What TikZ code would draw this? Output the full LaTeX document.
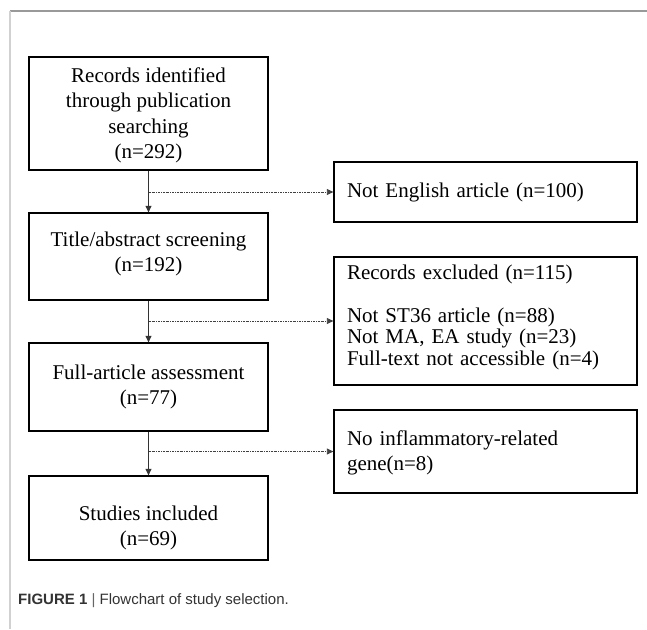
\documentclass[tikz,border=0pt]{standalone}
\usepackage{fontspec}
\setmainfont{Liberation Serif}
\setsansfont{Liberation Sans}
\usetikzlibrary{arrows.meta}
\begin{document}
\begin{tikzpicture}[x=1pt,y=-1pt,
 box/.style={draw=black,line width=1.3pt,minimum width=239pt,align=center,font=\fontsize{21}{25.5}\selectfont,inner sep=0pt,text=black},
 side/.style={draw=black,line width=1.3pt,minimum width=303pt,text width=277pt,align=left,inner xsep=13pt,inner ysep=0pt,font=\fontsize{21}{21.5}\selectfont,text=black},
 flow/.style={draw=black!80,line width=1pt,-{Triangle[length=6.5pt,width=6pt]}},
 excl/.style={draw=black!75,line width=0.8pt,dash pattern=on 2pt off 1pt on 0.7pt off 1pt,-{Triangle[length=6.5pt,width=6pt]}}]
\useasboundingbox (0,0) rectangle (647,629);
\draw[black!40,line width=1.5pt] (10,11) -- (647,11);
\draw[black!18,line width=2pt] (10,11) -- (10,629);
\node[box,minimum height=113pt] (b1) at (148.5,113.5) {\rule{0pt}{18pt}Records identified\\through publication\\searching\\(n=292)};
\node[box,minimum height=87pt] (b2) at (148.5,256.5) {Title/abstract screening\\(n=192)\rule[-10pt]{0pt}{1pt}};
\node[box,minimum height=88pt] (b3) at (148.5,387) {Full-article assessment\\(n=77)};
\node[box,minimum height=84pt] (b4) at (148.5,518) {\rule{0pt}{34pt}Studies included\\(n=69)};
\node[side,minimum height=60pt] (s1) at (485.5,192) {Not English article (n=100)};
\node[side,minimum height=128pt] (s2) at (485.5,321) {Records excluded (n=115)\\[21.5pt]Not ST36 article (n=88)\\Not MA, EA study (n=23)\\Full-text not accessible (n=4)\rule[-12pt]{0pt}{1pt}};
\node[side,minimum height=83pt,font=\fontsize{21}{24.5}\selectfont] (s3) at (485.5,451.5) {\rule{0pt}{18pt}No inflammatory-related\\gene(n=8)};
\draw[flow] (b1.south) -- (b2.north);
\draw[flow] (b2.south) -- (b3.north);
\draw[flow] (b3.south) -- (b4.north);
\draw[excl] (b1.south |- s1.west) -- (s1.west);
\draw[excl] (b2.south |- s2.west) -- (s2.west);
\draw[excl] (b3.south |- s3.west) -- (s3.west);
\node[anchor=west,font=\sffamily\fontsize{15}{18}\selectfont,text=black!80,inner sep=0pt] (cap) at (18,601) {\textbf{FIGURE 1}\ \textcolor{black!60}{|}\ Flowchart of study selection.};
\end{tikzpicture}
\end{document}
